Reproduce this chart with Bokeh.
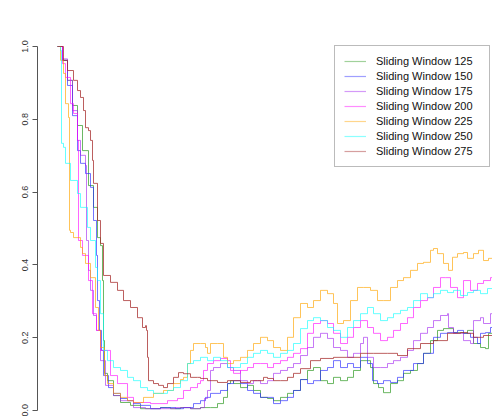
from bokeh.plotting import figure
from bokeh.models import Range1d, FixedTicker, PrintfTickFormatter, Legend, LegendItem
from bokeh.embed import file_html
from bokeh.resources import INLINE

# Recovery curves for each sliding-window size (time step, value)
t125 = [0, 5, 10, 15, 20, 25, 31, 36, 40, 43, 45, 46, 47, 50, 56, 63, 73, 83, 93, 103,
        113, 123, 133, 143, 153, 160, 166, 170, 173, 176, 183, 190, 196, 203, 210, 216, 223, 230, 236, 243,
        250, 256, 263, 270, 276, 283, 290, 296, 303, 310, 313, 316, 321, 326, 333, 340, 346, 353, 360, 366,
        373, 380, 386, 396, 406, 410, 416, 423, 428, 431, 435]
v125 = [1.0, 0.962, 0.907, 0.838, 0.783, 0.714, 0.618, 0.558, 0.475, 0.453, 0.357, 0.192, 0.102, 0.082, 0.041, 0.022, 0.014, 0.005, 0.005, 0.008,
        0.005, 0.008, 0.005, 0.008, 0.008, 0.019, 0.036, 0.074, 0.082, 0.074, 0.063, 0.069, 0.055, 0.036, 0.033, 0.027, 0.036, 0.047, 0.055, 0.085,
        0.110, 0.118, 0.082, 0.074, 0.091, 0.082, 0.091, 0.110, 0.137, 0.137, 0.118, 0.074, 0.063, 0.049, 0.074, 0.082, 0.102, 0.110, 0.129, 0.157,
        0.192, 0.220, 0.225, 0.214, 0.212, 0.220, 0.184, 0.173, 0.170, 0.212, 0.212]

t150 = [0, 5, 10, 15, 20, 23, 28, 33, 36, 39, 40, 42, 44, 46, 51, 56, 63, 70, 76, 83,
        93, 103, 110, 118, 126, 136, 143, 148, 153, 163, 170, 176, 183, 190, 196, 203, 210, 216, 223, 230,
        236, 243, 250, 256, 263, 270, 276, 283, 290, 296, 303, 310, 315, 320, 326, 333, 340, 346, 356, 366,
        376, 383, 390, 400, 406, 413, 420, 423, 428, 433, 435]
v150 = [1.0, 0.962, 0.893, 0.810, 0.714, 0.679, 0.651, 0.613, 0.522, 0.426, 0.302, 0.220, 0.165, 0.096, 0.063, 0.047, 0.033, 0.027, 0.019, 0.014,
        0.005, 0.008, 0.008, 0.005, 0.008, 0.019, 0.027, 0.036, 0.047, 0.055, 0.074, 0.082, 0.074, 0.055, 0.047, 0.036, 0.036, 0.019, 0.027, 0.036,
        0.055, 0.085, 0.074, 0.082, 0.110, 0.118, 0.137, 0.118, 0.129, 0.118, 0.146, 0.129, 0.082, 0.074, 0.082, 0.077, 0.091, 0.110, 0.129, 0.157,
        0.201, 0.212, 0.214, 0.220, 0.212, 0.201, 0.184, 0.212, 0.214, 0.228, 0.228]

t175 = [0, 5, 10, 15, 20, 23, 28, 29, 31, 33, 36, 39, 43, 48, 56, 63, 76, 88, 103, 118,
        133, 143, 147, 150, 153, 156, 163, 170, 176, 183, 190, 196, 203, 210, 216, 223, 230, 236, 243, 250,
        256, 263, 270, 276, 283, 290, 296, 303, 306, 310, 316, 323, 330, 336, 343, 350, 356, 363, 370, 376,
        383, 390, 391, 396, 406, 413, 416, 423, 426, 433, 435]
v175 = [1.0, 0.966, 0.907, 0.824, 0.742, 0.701, 0.673, 0.467, 0.385, 0.330, 0.261, 0.220, 0.137, 0.069, 0.041, 0.027, 0.008, 0.005, 0.005, 0.008,
        0.005, 0.008, 0.033, 0.055, 0.110, 0.118, 0.129, 0.118, 0.110, 0.082, 0.074, 0.082, 0.074, 0.082, 0.102, 0.110, 0.118, 0.129, 0.151, 0.173,
        0.201, 0.212, 0.198, 0.173, 0.165, 0.146, 0.157, 0.184, 0.201, 0.146, 0.118, 0.118, 0.129, 0.137, 0.146, 0.165, 0.192, 0.212, 0.228, 0.247,
        0.261, 0.266, 0.228, 0.212, 0.192, 0.184, 0.247, 0.255, 0.239, 0.266, 0.266]

t200 = [0, 5, 8, 13, 16, 20, 21, 25, 31, 35, 39, 43, 53, 60, 70, 76, 93, 110, 120, 126,
        133, 140, 143, 146, 150, 156, 163, 170, 173, 176, 183, 190, 196, 203, 210, 216, 223, 230, 236, 243,
        250, 256, 263, 270, 276, 283, 290, 296, 303, 310, 316, 323, 330, 336, 343, 350, 356, 363, 370, 376,
        383, 388, 393, 400, 406, 413, 420, 426, 433, 435]
v200 = [1.0, 0.953, 0.915, 0.843, 0.816, 0.742, 0.467, 0.426, 0.357, 0.266, 0.220, 0.165, 0.096, 0.074, 0.036, 0.022, 0.019, 0.027, 0.033, 0.055,
        0.063, 0.074, 0.082, 0.110, 0.129, 0.137, 0.143, 0.137, 0.110, 0.102, 0.110, 0.118, 0.129, 0.129, 0.118, 0.129, 0.137, 0.146, 0.157, 0.170,
        0.212, 0.239, 0.247, 0.239, 0.212, 0.184, 0.201, 0.228, 0.247, 0.228, 0.212, 0.192, 0.201, 0.220, 0.239, 0.255, 0.283, 0.302, 0.310, 0.338,
        0.365, 0.365, 0.338, 0.310, 0.357, 0.330, 0.349, 0.357, 0.365, 0.365]

t225 = [0, 3, 6, 8, 11, 12, 13, 16, 23, 25, 28, 33, 38, 41, 43, 47, 50, 56, 63, 70,
        76, 86, 96, 106, 116, 123, 126, 130, 133, 136, 143, 148, 150, 153, 160, 166, 170, 176, 183, 190,
        196, 203, 210, 216, 223, 230, 236, 243, 250, 256, 263, 270, 276, 280, 286, 293, 300, 306, 313, 320,
        326, 333, 340, 346, 353, 360, 366, 373, 376, 380, 386, 391, 395, 400, 406, 410, 416, 421, 426, 431,
        435]
v225 = [1.0, 0.962, 0.926, 0.843, 0.805, 0.495, 0.489, 0.475, 0.448, 0.431, 0.404, 0.365, 0.283, 0.220, 0.173, 0.096, 0.074, 0.047, 0.036, 0.027,
        0.022, 0.036, 0.047, 0.055, 0.074, 0.085, 0.091, 0.129, 0.165, 0.184, 0.184, 0.173, 0.157, 0.184, 0.184, 0.146, 0.129, 0.137, 0.146, 0.165,
        0.184, 0.201, 0.192, 0.173, 0.165, 0.201, 0.255, 0.294, 0.283, 0.302, 0.330, 0.321, 0.294, 0.239, 0.247, 0.302, 0.338, 0.338, 0.330, 0.302,
        0.302, 0.338, 0.357, 0.365, 0.385, 0.404, 0.407, 0.440, 0.445, 0.431, 0.404, 0.385, 0.421, 0.431, 0.434, 0.418, 0.431, 0.440, 0.412, 0.418,
        0.418]

t250 = [0, 3, 4, 6, 8, 13, 20, 23, 30, 33, 38, 40, 43, 46, 50, 56, 63, 70, 76, 83,
        90, 96, 103, 110, 116, 123, 130, 136, 143, 150, 156, 163, 170, 176, 183, 190, 196, 203, 210, 216,
        223, 230, 236, 243, 250, 256, 263, 270, 276, 283, 290, 296, 303, 310, 316, 323, 330, 336, 343, 350,
        356, 363, 370, 376, 383, 390, 396, 403, 410, 416, 423, 430, 435]
v250 = [1.0, 0.989, 0.734, 0.723, 0.679, 0.632, 0.596, 0.558, 0.503, 0.467, 0.393, 0.357, 0.266, 0.165, 0.137, 0.118, 0.110, 0.091, 0.082, 0.063,
        0.055, 0.047, 0.047, 0.055, 0.063, 0.082, 0.129, 0.137, 0.146, 0.137, 0.146, 0.137, 0.118, 0.118, 0.129, 0.146, 0.157, 0.165, 0.157, 0.146,
        0.157, 0.165, 0.184, 0.225, 0.247, 0.255, 0.247, 0.228, 0.220, 0.201, 0.228, 0.247, 0.266, 0.283, 0.266, 0.247, 0.255, 0.266, 0.275, 0.283,
        0.302, 0.321, 0.310, 0.321, 0.330, 0.324, 0.330, 0.316, 0.324, 0.330, 0.321, 0.335, 0.335]

t275 = [0, 6, 10, 16, 20, 23, 26, 28, 31, 33, 35, 36, 40, 43, 46, 53, 60, 66, 73, 80,
        85, 88, 89, 90, 91, 96, 101, 106, 110, 116, 121, 126, 133, 140, 143, 150, 160, 170, 176, 183,
        193, 200, 206, 210, 216, 223, 230, 236, 243, 253, 263, 276, 290, 303, 316, 330, 340, 350, 363, 376,
        390, 403, 410, 416, 426, 435]
v275 = [1.0, 0.962, 0.934, 0.907, 0.879, 0.860, 0.824, 0.777, 0.769, 0.742, 0.687, 0.624, 0.522, 0.459, 0.371, 0.352, 0.330, 0.302, 0.283, 0.255,
        0.228, 0.233, 0.220, 0.146, 0.082, 0.074, 0.069, 0.063, 0.074, 0.091, 0.104, 0.101, 0.091, 0.091, 0.088, 0.082, 0.077, 0.082, 0.082, 0.077,
        0.082, 0.082, 0.091, 0.088, 0.082, 0.082, 0.091, 0.102, 0.115, 0.137, 0.143, 0.146, 0.146, 0.157, 0.157, 0.157, 0.151, 0.170, 0.184, 0.192,
        0.212, 0.214, 0.212, 0.201, 0.206, 0.206]

labels = ["Sliding Window 125", "Sliding Window 150", "Sliding Window 175",
          "Sliding Window 200", "Sliding Window 225", "Sliding Window 250",
          "Sliding Window 275"]
series = [(t125, v125), (t150, v150), (t175, v175), (t200, v200),
          (t225, v225), (t250, v250), (t275, v275)]
colors = ["#2e9a22", "#2a2aff", "#a020f0", "#ff00ff", "#ffa500", "#00ffff", "#a52a2a"]
alphas = [0.7, 0.65, 0.6, 0.6, 0.65, 0.6, 0.75]

y_ticks = [0.0, 0.2, 0.4, 0.6, 0.8, 1.0]

p = figure(width=492, height=416, output_backend="svg", toolbar_location=None,
           x_range=Range1d(-20, 435), y_range=Range1d(-0.0165, 1.1264),
           x_axis_location=None,
           min_border_left=37, min_border_right=0, min_border_top=0, min_border_bottom=0)
p.outline_line_color = None
p.xgrid.visible = False
p.ygrid.visible = False
p.background_fill_color = "white"
p.border_fill_color = "white"

items = []
for (t, v), lab, c, a in zip(series, labels, colors, alphas):
    p.step(t, v, mode="after", line_color=c, line_alpha=a, line_width=1)
    # single-point line (draws nothing on the plot) carrying the legend swatch
    key = p.line(t[:1], v[:1], line_color=c, line_alpha=0.45, line_width=1.2)
    items.append(LegendItem(label=lab, renderers=[key]))

ax = p.yaxis[0]
ax.ticker = FixedTicker(ticks=y_ticks)
ax.formatter = PrintfTickFormatter(format="%.1f")
ax.bounds = (0, 1)
ax.axis_line_color = "#555555"
ax.major_tick_line_color = "#555555"
ax.major_tick_out = 5
ax.major_tick_in = 0
ax.minor_tick_line_color = None
ax.major_label_orientation = "vertical"
ax.major_label_standoff = 4
ax.major_label_text_font = "Liberation Sans"
ax.major_label_text_font_size = "9px"
ax.major_label_text_color = "#333333"

lg = Legend(items=items, location=(297, 249))
lg.border_line_color = "#777777"
lg.border_line_width = 1
lg.background_fill_color = "white"
lg.background_fill_alpha = 1
lg.padding = 9
lg.spacing = 3
lg.margin = 0
lg.glyph_width = 22
lg.glyph_height = 12
lg.label_height = 12
lg.label_standoff = 10
lg.label_width = 104
lg.label_text_font = "Liberation Sans"
lg.label_text_font_size = "11px"
lg.label_text_color = "#111111"
p.add_layout(lg, "center")

open("out.html", "w").write(file_html(p, INLINE))
